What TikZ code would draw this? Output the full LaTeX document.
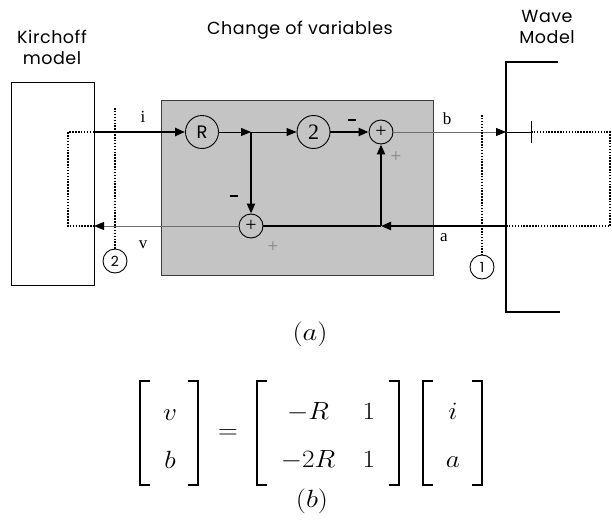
\documentclass[tikz,border=0pt]{standalone}
\usepackage{fontspec}
\newfontfamily\hdrfont[LetterSpace=3]{Poppins}
\newfontfamily\rfont{Poppins}
\newfontfamily\serfont{Liberation Serif}
\usetikzlibrary{arrows.meta}
\definecolor{boxgray}{RGB}{196,196,196}
\definecolor{edgegray}{RGB}{60,60,60}
\definecolor{pluscol}{RGB}{130,130,130}
\definecolor{bline}{RGB}{110,110,110}
\begin{document}
\begin{tikzpicture}[x=1pt,y=-1pt,
  thk/.style={line width=2.2pt},
  thn/.style={line width=0.9pt},
  arr/.style={-{Triangle[length=10pt,width=8pt,color=black]}},
  dotl/.style={line width=1.8pt, dash pattern=on 1.5pt off 1.4pt},
  bigc/.style={circle, draw, line width=0.9pt, minimum size=33pt, inner sep=0pt, fill=boxgray},
  sumc/.style={circle, draw, line width=0.9pt, minimum size=24pt, inner sep=0pt, fill=boxgray, font=\serfont\fontsize{20}{20}\selectfont},
  numc/.style={circle, draw, line width=0.9pt, minimum size=24pt, inner sep=0pt, fill=white, font=\rfont\fontsize{14}{14}\selectfont},
  lbl/.style={inner sep=0pt, font=\serfont\fontsize{17}{17}\selectfont},
  minus/.style={fill=black, inner sep=0pt, minimum width=8pt, minimum height=2.2pt},
  plusg/.style={inner sep=0pt, text=pluscol, font=\serfont\fontsize{19}{19}\selectfont},
  hdr/.style={inner sep=0pt, align=center, font=\hdrfont\fontsize{17.5}{21}\selectfont},
  eq/.style={inner sep=0pt, font=\fontsize{24}{24}\selectfont},
  ent/.style={eq, anchor=base},
  brk/.style={line width=1.3pt}
]
\useasboundingbox (0,0) rectangle (612,519);

% boxes
\node[draw=edgegray, line width=1pt, fill=boxgray, minimum width=272pt, minimum height=175pt, inner sep=0pt] (cov) at (297,187.5) {};
\node[draw, line width=0.9pt, minimum width=83pt, minimum height=203pt, inner sep=0pt] (kir) at (52.5,183.5) {};
\draw[line width=1.1pt] (558,62) -- (506,62) -- (506,312) -- (560,312);

% headers
\node[hdr] (hk) at (52,47) {Kirchoff\\model};
\node[hdr] (hc) at (300,30) {Change of variables};
\node[hdr] (hw) at (547,27) {Wave\\Model};

% coordinates
\coordinate (kt) at (68,132);
\coordinate (kb) at (68,226);
\coordinate (ko) at (94,132);
\coordinate (ki) at (94,226);
\coordinate (j1) at (251,132);
\coordinate (j2) at (381,226);
\coordinate (wb) at (506,132);
\coordinate (tk) at (531,132);
\coordinate (rt) at (610,132);
\coordinate (rb) at (610,226);
\coordinate (wa) at (506,226);
\coordinate (d2) at (115,108);
\coordinate (d1) at (482,115);
\coordinate (tkt) at (531,121);
\coordinate (tkb) at (531,143);

% circle nodes
\node[bigc] (R) at (202,132) {\rfont\fontsize{18}{18}\selectfont R};
\node[bigc] (two) at (313.5,132) {\serfont\fontsize{22}{22}\selectfont 2};
\node[sumc] (s1) at (381,132) {+};
\node[sumc] (s2) at (251,226) {+};
\node[numc] (c2) at (115,261) {2};
\node[numc] (c1) at (482,267) {1};

% connectors
\draw[dotl] (ko) -- (kt) -- (kb) -- (ki);
\draw[thk,arr] (ko) -- (R);
\draw[thn,arr] (R) -- (j1);
\draw[thn,arr] (j1) -- (two);
\draw[thk,arr] (j1) -- (s2);
\draw[thk,arr] (two) -- (s1);
\draw[thn,draw=bline,arr] (s1) -- (wb);
\draw[thn] (wb) -- (tk);
\draw[thn] (tkt) -- (tkb);
\draw[dotl] (tk) -- (rt) -- (rb) -- (wa);
\draw[thk,arr] (wa) -- (j2);
\draw[thk] (j2) -- (s2);
\draw[thk,arr] (j2) -- (s1);
\draw[thn,draw=bline,arr] (s2) -- (ki);
\draw[dotl] (d2) -- (c2);
\draw[dotl] (d1) -- (c1);

% labels
\node[lbl] (li) at (143,117) {i};
\node[lbl] (lb) at (447,119) {b};
\node[lbl] (lv) at (143,245) {v};
\node[lbl] (la) at (444,238) {a};
\node[minus] (m1) at (234,196) {};
\node[minus] (m2) at (352,120) {};
\node[plusg] (p1) at (396,157) {+};
\node[plusg] (p2) at (273,247) {+};

% equation
\node[eq] (ea) at (310,334) {\scalebox{1.15}[1]{$(a)$}};
\node[eq] (eb) at (312,501) {\scalebox{1.15}[1]{$(b)$}};
\node[ent] (ev) at (170,420) {\scalebox{1.1}[1]{$v$}};
\node[ent] (ebb) at (170,468) {\scalebox{1.1}[1]{$b$}};
\node[eq] (eqs) at (228,434) {\scalebox{1.1}[1]{$=$}};
\node[ent] (m11) at (308,419) {\scalebox{1.1}[1]{$-R$}};
\node[ent] (m21) at (308,467) {\scalebox{1.1}[1]{$-2R$}};
\node[ent] (m12) at (369,419) {\scalebox{1.1}[1]{$1$}};
\node[ent] (m22) at (369,467) {\scalebox{1.1}[1]{$1$}};
\node[ent] (ei) at (453,419) {\scalebox{1.1}[1]{$i$}};
\node[ent] (eaa) at (453,467) {\scalebox{1.1}[1]{$a$}};
\draw[brk] (150,381) -- (140,381) -- (140,485) -- (150,485);
\draw[brk] (188,381) -- (198,381) -- (198,485) -- (188,485);
\draw[brk] (267,381) -- (257,381) -- (257,485) -- (267,485);
\draw[brk] (389,381) -- (399,381) -- (399,485) -- (389,485);
\draw[brk] (433,381) -- (423,381) -- (423,485) -- (433,485);
\draw[brk] (472,381) -- (482,381) -- (482,485) -- (472,485);
\end{tikzpicture}
\end{document}
